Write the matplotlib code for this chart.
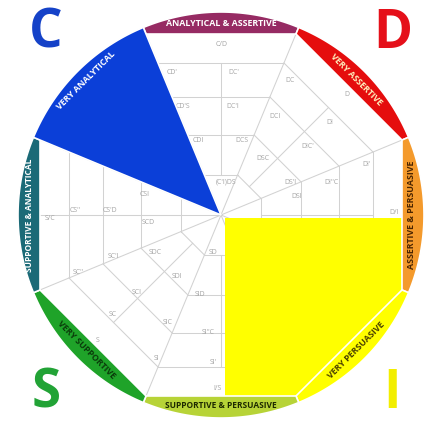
import numpy as np
import matplotlib
matplotlib.use('Agg')
import matplotlib.pyplot as plt
from matplotlib.patches import Polygon

plt.rcParams['font.family'] = ['Open Sans', 'DejaVu Sans']

# Sectors of the outer ring (bisector angle in degrees, counter-clockwise from east)
sector_angles = [90, 45, 0, -45, -90, -135, 180, 135]
sector_names = ['ANALYTICAL & ASSERTIVE', 'VERY ASSERTIVE', 'ASSERTIVE & PERSUASIVE',
                'VERY PERSUASIVE', 'SUPPORTIVE & PERSUASIVE', 'VERY SUPPORTIVE',
                'SUPPORTIVE & ANALYTICAL', 'VERY ANALYTICAL']
sector_colors = ['#962B63', '#E50D0D', '#F49A2C', '#FFFF00', '#B7D337', '#1FA329',
                 '#1B6A77', '#0B3FD8']
sector_text = ['white', '#FFF2C0', '#4A2400', '#4A4000', '#1E2A00', '#0A3A0A',
               'white', 'white']

# Octagon rings of the inner grid (apothem, px)
rings = [40, 80, 118, 152]

# Cell labels and where they sit (pixel coords of the reference)
cell_labels = ['C/D', "CD'", "DC'", "CD'S", "DC'I", 'CDI', 'DCS', "(C'I)DS",
               'DC', 'D', 'DCI', 'DI', 'DSC', "DIC'", "DI'", "DS'I", "DI''C", 'DSI', 'D/I',
               'S/C', "CS''", "CS'D", 'CSI', 'SCD',
               "SC''", "SC'I", 'SDC', 'SD', 'SDI', 'SID', 'SCI', "SC", 'SIC', 'S', 'SI',
               "SI''C", "SI'", 'I/S']
cell_xy = [(222, 44), (172, 72), (234, 72), (183, 106), (233, 106), (198, 141),
           (242, 140), (226, 182),
           (290, 80), (347, 95), (275, 117), (330, 122), (263, 159), (308, 147),
           (367, 165), (290, 182), (332, 182), (297, 197), (394, 213),
           (50, 218), (75, 210), (110, 210), (145, 195), (148, 222),
           (78, 272), (113, 257), (155, 253), (213, 253), (177, 277), (200, 295),
           (137, 292), (113, 315), (168, 322), (98, 340), (157, 358),
           (208, 333), (213, 363), (218, 388)]

big_letters = ['C', 'D', 'S', 'I']
big_colors = ['#1542C8', '#E5101A', '#22A336', '#F2EE00']
big_xy = [(46, 33), (393, 34), (46, 394), (392, 394)]

CX, CY = 221, 215
R = 203
A = 181  # apothem of the white octagon
H = 22.5

fig = plt.figure(figsize=(4.25, 4.21), dpi=100)
ax = fig.add_axes([0, 0, 1, 1])
ax.set_xlim(-CX, 425 - CX)
ax.set_ylim(CY - 421, CY)
ax.axis('off')


def px(p):
    return p[0] - CX, CY - p[1]


def pol(r, deg):
    t = np.radians(deg)
    return r * np.cos(t), r * np.sin(t)


grid_kw = dict(color='#D2D2D2', lw=0.75, zorder=1)

# octagon rings
for th in sector_angles:
    for u in rings:
        p1 = pol(u / np.cos(np.radians(H)), th - H)
        p2 = pol(u / np.cos(np.radians(H)), th + H)
        ax.plot([p1[0], p2[0]], [p1[1], p2[1]], **grid_kw)
    # bisector line
    p1 = pol(rings[0], th)
    p2 = pol(rings[-1], th)
    ax.plot([p1[0], p2[0]], [p1[1], p2[1]], **grid_kw)
    # radial boundary
    p = pol(A / np.cos(np.radians(H)), th + H)
    ax.plot([0, p[0]], [0, p[1]], **grid_kw)
ax.plot([-A, 0], [0, 0], **grid_kw)

# outer band segments
for th, name, col, tc in zip(sector_angles, sector_names, sector_colors, sector_text):
    arc = np.linspace(th - H, th + H, 60)
    pts = [pol(R, a) for a in arc]
    pts += [pol(A / np.cos(np.radians(H)), th + H), pol(A / np.cos(np.radians(H)), th - H)]
    if name == 'VERY ANALYTICAL':
        pts = [(0, 0)] + [pol(R, a) for a in arc]
    ax.add_patch(Polygon(pts, closed=True, fc=col, ec='white', lw=1.2, zorder=3))
    rot = th - 90
    if rot <= -90 or rot > 90:
        rot += 180
    if rot > 180:
        rot -= 360
    tx, ty = pol(191, th)
    fs = 6.0 if len(name) > 22 else 6.4
    ax.text(tx, ty, name, color=tc, fontsize=fs, fontweight='bold', rotation=rot,
            rotation_mode='anchor', ha='center', va='center', zorder=5)

# yellow quadrant of the octagon (I)
ox, oy = 4, -3
vtx = A * np.tan(np.radians(H))
yel = [(ox, oy), (A, oy), (A, -vtx)]
yel += [pol(R, a) for a in np.linspace(-H, -90 + H, 60)]
yel += [(vtx, -A), (ox, -A)]
ax.add_patch(Polygon(yel, closed=True, fc='#FFFF00', ec='none', zorder=2))

# cell labels
for lab, p in zip(cell_labels, cell_xy):
    x, y = px(p)
    ax.text(x, y, lab, color='#A5A5A5', fontsize=5, ha='center', va='center', zorder=1.5)

# big corner letters
for lab, col, p in zip(big_letters, big_colors, big_xy):
    x, y = px(p)
    ax.text(x, y, lab, color=col, fontsize=38, fontweight='bold', ha='center',
            va='center', zorder=6)

fig.savefig('out.png', dpi=100, facecolor='white')
